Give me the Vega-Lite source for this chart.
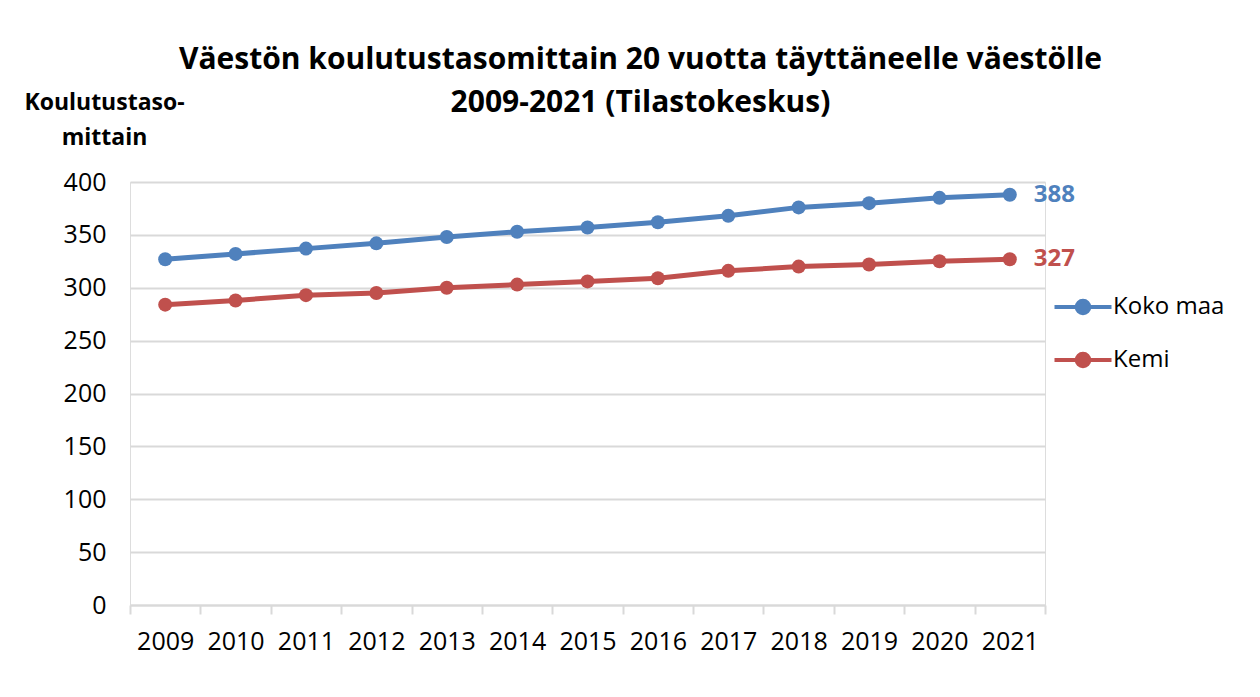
{
  "$schema": "https://vega.github.io/schema/vega-lite/v6.json",
  "width": 915,
  "height": 423,
  "autosize": {"type": "none"},
  "padding": {"left": 130, "top": 182, "right": 215, "bottom": 92},
  "background": "white",
  "title": {
    "text": ["Väestön koulutustasomittain 20 vuotta täyttäneelle väestölle", "2009-2021 (Tilastokeskus)"],
    "font": "Open Sans",
    "fontSize": 30,
    "fontWeight": "bold",
    "color": "#000000",
    "anchor": "middle",
    "frame": "group",
    "lineHeight": 43,
    "dx": 53,
    "dy": 37,
    "offset": 10
  },
  "data": {
    "values": [
      {"year": "2009", "series": "Koko maa", "value": 327},
      {"year": "2010", "series": "Koko maa", "value": 332},
      {"year": "2011", "series": "Koko maa", "value": 337},
      {"year": "2012", "series": "Koko maa", "value": 342},
      {"year": "2013", "series": "Koko maa", "value": 348},
      {"year": "2014", "series": "Koko maa", "value": 353},
      {"year": "2015", "series": "Koko maa", "value": 357},
      {"year": "2016", "series": "Koko maa", "value": 362},
      {"year": "2017", "series": "Koko maa", "value": 368},
      {"year": "2018", "series": "Koko maa", "value": 376},
      {"year": "2019", "series": "Koko maa", "value": 380},
      {"year": "2020", "series": "Koko maa", "value": 385},
      {"year": "2021", "series": "Koko maa", "value": 388},
      {"year": "2009", "series": "Kemi", "value": 284},
      {"year": "2010", "series": "Kemi", "value": 288},
      {"year": "2011", "series": "Kemi", "value": 293},
      {"year": "2012", "series": "Kemi", "value": 295},
      {"year": "2013", "series": "Kemi", "value": 300},
      {"year": "2014", "series": "Kemi", "value": 303},
      {"year": "2015", "series": "Kemi", "value": 306},
      {"year": "2016", "series": "Kemi", "value": 309},
      {"year": "2017", "series": "Kemi", "value": 316},
      {"year": "2018", "series": "Kemi", "value": 320},
      {"year": "2019", "series": "Kemi", "value": 322},
      {"year": "2020", "series": "Kemi", "value": 325},
      {"year": "2021", "series": "Kemi", "value": 327}
    ]
  },
  "encoding": {
    "x": {
      "field": "year",
      "type": "ordinal",
      "scale": {"type": "band", "paddingInner": 0, "paddingOuter": 0},
      "axis": {
        "title": null,
        "labelAngle": 0,
        "labelFont": "Open Sans",
        "labelFontSize": 25,
        "labelColor": "#000000",
        "labelPadding": 15,
        "tickBand": "extent",
        "tickSize": 9,
        "tickColor": "#d9d9d9",
        "tickWidth": 2,
        "domainColor": "#d9d9d9",
        "domainWidth": 2,
        "grid": false
      }
    },
    "y": {
      "field": "value",
      "type": "quantitative",
      "scale": {"domain": [0, 400], "nice": false},
      "axis": {
        "values": [0, 50, 100, 150, 200, 250, 300, 350, 400],
        "title": ["Koulutustaso-", "mittain"],
        "titleFont": "Open Sans",
        "titleFontSize": 23,
        "titleFontWeight": "bold",
        "titleColor": "#000000",
        "titleAngle": 0,
        "titleAlign": "center",
        "titleBaseline": "top",
        "titleX": -26,
        "titleY": -91,
        "titleLineHeight": 35,
        "labelFont": "Open Sans",
        "labelFontSize": 25,
        "labelColor": "#000000",
        "labelPadding": 24,
        "ticks": false,
        "domain": false,
        "grid": true,
        "gridColor": "#d9d9d9",
        "gridWidth": 2
      }
    },
    "color": {
      "field": "series",
      "type": "nominal",
      "scale": {"domain": ["Koko maa", "Kemi"], "range": ["#4F81BD", "#C0504D"]},
      "legend": {
        "title": null,
        "orient": "none",
        "legendX": 936,
        "legendY": 108,
        "symbolType": "M-1.9,0H1.9M0.42,0A0.42,0.42,0,1,1,-0.42,0A0.42,0.42,0,1,1,0.42,0Z",
        "symbolSize": 900,
        "symbolStrokeWidth": 4,
        "labelFont": "Open Sans",
        "labelFontSize": 24,
        "labelColor": "#000000",
        "labelOffset": 13,
        "rowPadding": 21
      }
    }
  },
  "layer": [
    {
      "mark": {"type": "line", "strokeWidth": 5, "point": {"filled": true, "size": 196, "opacity": 1}}
    },
    {
      "transform": [{"filter": "datum.year == '2021'"}],
      "mark": {"type": "text", "align": "left", "baseline": "middle", "dx": 24, "font": "Open Sans", "fontSize": 24, "fontWeight": "bold"},
      "encoding": {
        "text": {"field": "value", "type": "quantitative"}
      }
    }
  ]
}
